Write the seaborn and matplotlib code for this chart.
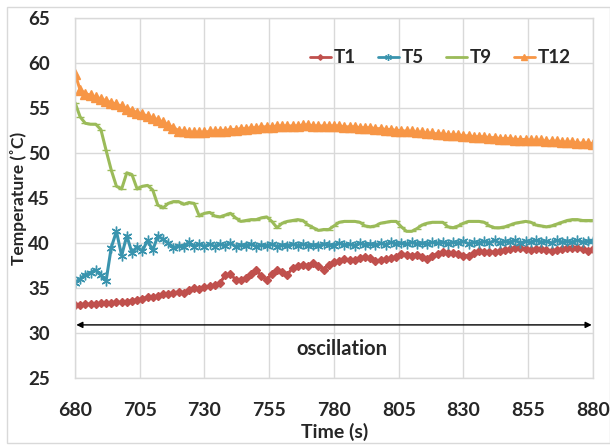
import numpy as np
import pandas as pd
import matplotlib
matplotlib.use("Agg")
import matplotlib.pyplot as plt
import seaborn as sns
from matplotlib.lines import Line2D
from matplotlib.patches import Rectangle

# ---------------- data ----------------
time_s = list(range(680, 881, 2))

T1 = [33.1, 33.1, 33.2, 33.2, 33.2, 33.3, 33.3, 33.3, 33.4, 33.4,
      33.5, 33.6, 33.7, 33.8, 34.0, 34.0, 34.1, 34.3, 34.3, 34.4,
      34.6, 34.5, 34.8, 35.0, 34.9, 35.1, 35.2, 35.3, 35.6, 36.4,
      36.6, 35.9, 35.9, 36.1, 36.6, 37.0, 36.3, 35.9, 36.6, 37.0,
      36.8, 36.5, 37.2, 37.4, 37.6, 37.5, 37.8, 37.5, 37.0, 37.6,
      37.9, 38.0, 38.2, 38.1, 38.1, 38.3, 38.5, 38.3, 38.0, 38.1,
      38.2, 38.3, 38.4, 38.8, 38.7, 38.6, 38.7, 38.5, 38.2, 38.6,
      38.8, 39.0, 38.9, 38.9, 38.8, 38.6, 38.6, 38.9, 39.1, 39.0,
      39.0, 39.0, 39.1, 39.2, 39.3, 39.4, 39.5, 39.3, 39.2, 39.3,
      39.3, 39.2, 39.1, 39.2, 39.3, 39.4, 39.5, 39.5, 39.3, 39.1,
      39.3]

T5 = [35.6, 36.0, 36.5, 36.7, 37.0, 36.4, 35.8, 39.5, 41.3, 38.6,
      40.8, 38.9, 39.6, 39.1, 40.3, 39.2, 40.8, 40.4, 40.0, 39.5,
      39.7, 39.6, 40.1, 39.6, 39.9, 39.6, 39.9, 39.6, 39.9, 39.7,
      40.0, 39.6, 39.8, 39.7, 39.9, 39.6, 39.8, 39.7, 39.9, 39.6,
      39.8, 39.7, 39.9, 39.7, 39.9, 39.7, 39.8, 39.7, 39.9, 39.8,
      39.7, 40.0, 39.8, 39.9, 39.7, 40.0, 39.8, 39.9, 39.8, 40.0,
      39.8, 40.1, 39.9, 40.0, 39.9, 40.1, 39.9, 40.0, 39.9, 40.1,
      40.0, 40.1, 39.9, 40.1, 40.0, 40.2, 39.9, 40.1, 40.0, 40.2,
      40.0, 40.3, 40.0, 40.2, 40.1, 40.3, 40.0, 40.2, 40.1, 40.3,
      40.1, 40.2, 40.0, 40.3, 40.1, 40.2, 40.1, 40.3, 40.1, 40.2,
      40.2]

T9 = [55.6, 54.0, 53.3, 53.2, 53.2, 52.6, 50.3, 48.1, 46.3, 46.0,
      47.8, 47.6, 46.0, 46.3, 46.4, 45.9, 44.2, 43.9, 44.4, 44.6,
      44.6, 44.3, 44.5, 44.4, 43.0, 43.3, 43.4, 43.0, 42.9, 43.1,
      43.3, 42.8, 42.4, 42.5, 42.6, 42.6, 42.8, 42.9, 42.4, 41.7,
      42.2, 42.4, 42.5, 42.6, 42.5, 42.0, 41.7, 41.4, 41.5, 41.5,
      41.9, 42.3, 42.4, 42.4, 42.4, 42.3, 41.9, 41.8, 41.9, 42.2,
      42.3, 42.4, 42.4, 41.8, 41.3, 41.3, 41.6, 42.0, 42.2, 42.3,
      42.3, 42.3, 41.8, 41.7, 41.9, 42.2, 42.4, 42.4, 42.4, 42.3,
      41.9, 41.7, 41.7, 41.8, 42.0, 42.2, 42.3, 42.4, 42.3, 42.0,
      41.9, 41.8, 41.9, 42.1, 42.3, 42.5, 42.6, 42.6, 42.5, 42.5,
      42.5]

T12 = [58.8, 57.0, 56.6, 56.4, 56.2, 56.0, 55.8, 55.6, 55.4, 55.2,
       54.9, 54.7, 54.5, 54.3, 54.1, 53.9, 53.7, 53.4, 53.1, 52.8,
       52.5, 52.4, 52.3, 52.3, 52.3, 52.3, 52.4, 52.4, 52.5, 52.5,
       52.6, 52.6, 52.7, 52.7, 52.8, 52.8, 52.9, 52.9, 52.9, 53.0,
       53.0, 53.0, 53.0, 53.0, 53.1, 53.1, 53.0, 53.0, 53.0, 53.0,
       53.0, 53.0, 52.9, 52.9, 52.9, 52.8, 52.8, 52.8, 52.7, 52.7,
       52.6, 52.6, 52.5, 52.5, 52.4, 52.4, 52.3, 52.3, 52.2, 52.2,
       52.1, 52.1, 52.0, 52.0, 52.0, 51.9, 51.9, 51.8, 51.8, 51.8,
       51.7, 51.7, 51.6, 51.6, 51.6, 51.5, 51.5, 51.5, 51.4, 51.4,
       51.4, 51.3, 51.3, 51.3, 51.2, 51.2, 51.2, 51.1, 51.1, 51.1,
       51.0]

series_names = ["T1", "T5", "T9", "T12"]
x_ticks = [680, 705, 730, 755, 780, 805, 830, 855, 880]
y_ticks = [25, 30, 35, 40, 45, 50, 55, 60, 65]

# ---------------- style ----------------
sns.set_style("whitegrid")
plt.rcParams['font.family'] = ['Lato', 'DejaVu Sans']
plt.rcParams['font.weight'] = 'bold'

colors = {"T1": "#C0504D", "T5": "#3A94AE", "T9": "#9BBB59", "T12": "#F79646"}
markers = {"T1": "D", "T5": (6, 2, 0), "T9": "_", "T12": "^"}
msizes = {"T1": 4, "T5": 7, "T9": 6, "T12": 7}

df = pd.DataFrame({
    "Time": time_s * 4,
    "Temp": T1 + T5 + T9 + T12,
    "Series": sum([[n] * len(time_s) for n in series_names], []),
})

fig = plt.figure(figsize=(6.10, 4.46), dpi=100)
ax = fig.add_axes([75 / 610, 1 - 378 / 446, (593 - 75) / 610, (378 - 18) / 446])

for name in series_names:
    sub = df[df["Series"] == name]
    sns.lineplot(data=sub, x="Time", y="Temp", ax=ax, color=colors[name],
                 marker=markers[name], markersize=msizes[name],
                 markeredgecolor=colors[name], markeredgewidth=1.0,
                 linewidth=2.2, legend=False)

ax.set_xlim(680, 880)
ax.set_ylim(25, 65)
ax.set_xticks(x_ticks)
ax.set_yticks(y_ticks)
ax.grid(True, color="#D9D9D9", linewidth=1.0)
for s in ax.spines.values():
    s.set_color("#D9D9D9")
    s.set_linewidth(1.0)
ax.tick_params(axis='x', length=0, labelsize=14, pad=17)
ax.tick_params(axis='y', length=0, labelsize=13.5, pad=18)
for lbl in ax.get_xticklabels() + ax.get_yticklabels():
    lbl.set_fontweight('bold')
ax.set_xlabel("Time (s)", fontsize=14, fontweight='bold', va='center')
ax.set_ylabel("Temperature (˚C)", fontsize=12.5, fontweight='bold', va='center')
ax.xaxis.set_label_coords((335 - 75) / 518, (378 - 432) / 360)
ax.yaxis.set_label_coords((19 - 75) / 518, 0.5)

# oscillation arrow
ax.annotate("", xy=(680.5, 30.9), xytext=(879.5, 30.9),
            arrowprops=dict(arrowstyle="<|-|>", color="black", lw=1.0,
                            mutation_scale=9, shrinkA=0, shrinkB=0))
ax.text(783, 28.2, "oscillation", ha="center", va="center",
        fontsize=14.5, fontweight="bold")

# legend
handles = [Line2D([0], [0], color=colors[n], marker=markers[n],
                  markersize=msizes[n] * 0.7, markeredgecolor=colors[n],
                  linewidth=2.0) for n in series_names]
ax.legend(handles, series_names, loc="center", bbox_to_anchor=(0.705, 0.889),
          ncol=4, frameon=False, handlelength=1.1, handletextpad=0.15,
          columnspacing=1.2, prop={'size': 13.5, 'weight': 'bold'})

# outer chart border
fig.patches.append(Rectangle((7 / 610, 3 / 446), 1 - 7 / 610 - 0.5 / 610,
                             1 - 3 / 446 - 7 / 446, transform=fig.transFigure,
                             fill=False, edgecolor="#D9D9D9", linewidth=1.0))

fig.savefig("out.png", dpi=100)
